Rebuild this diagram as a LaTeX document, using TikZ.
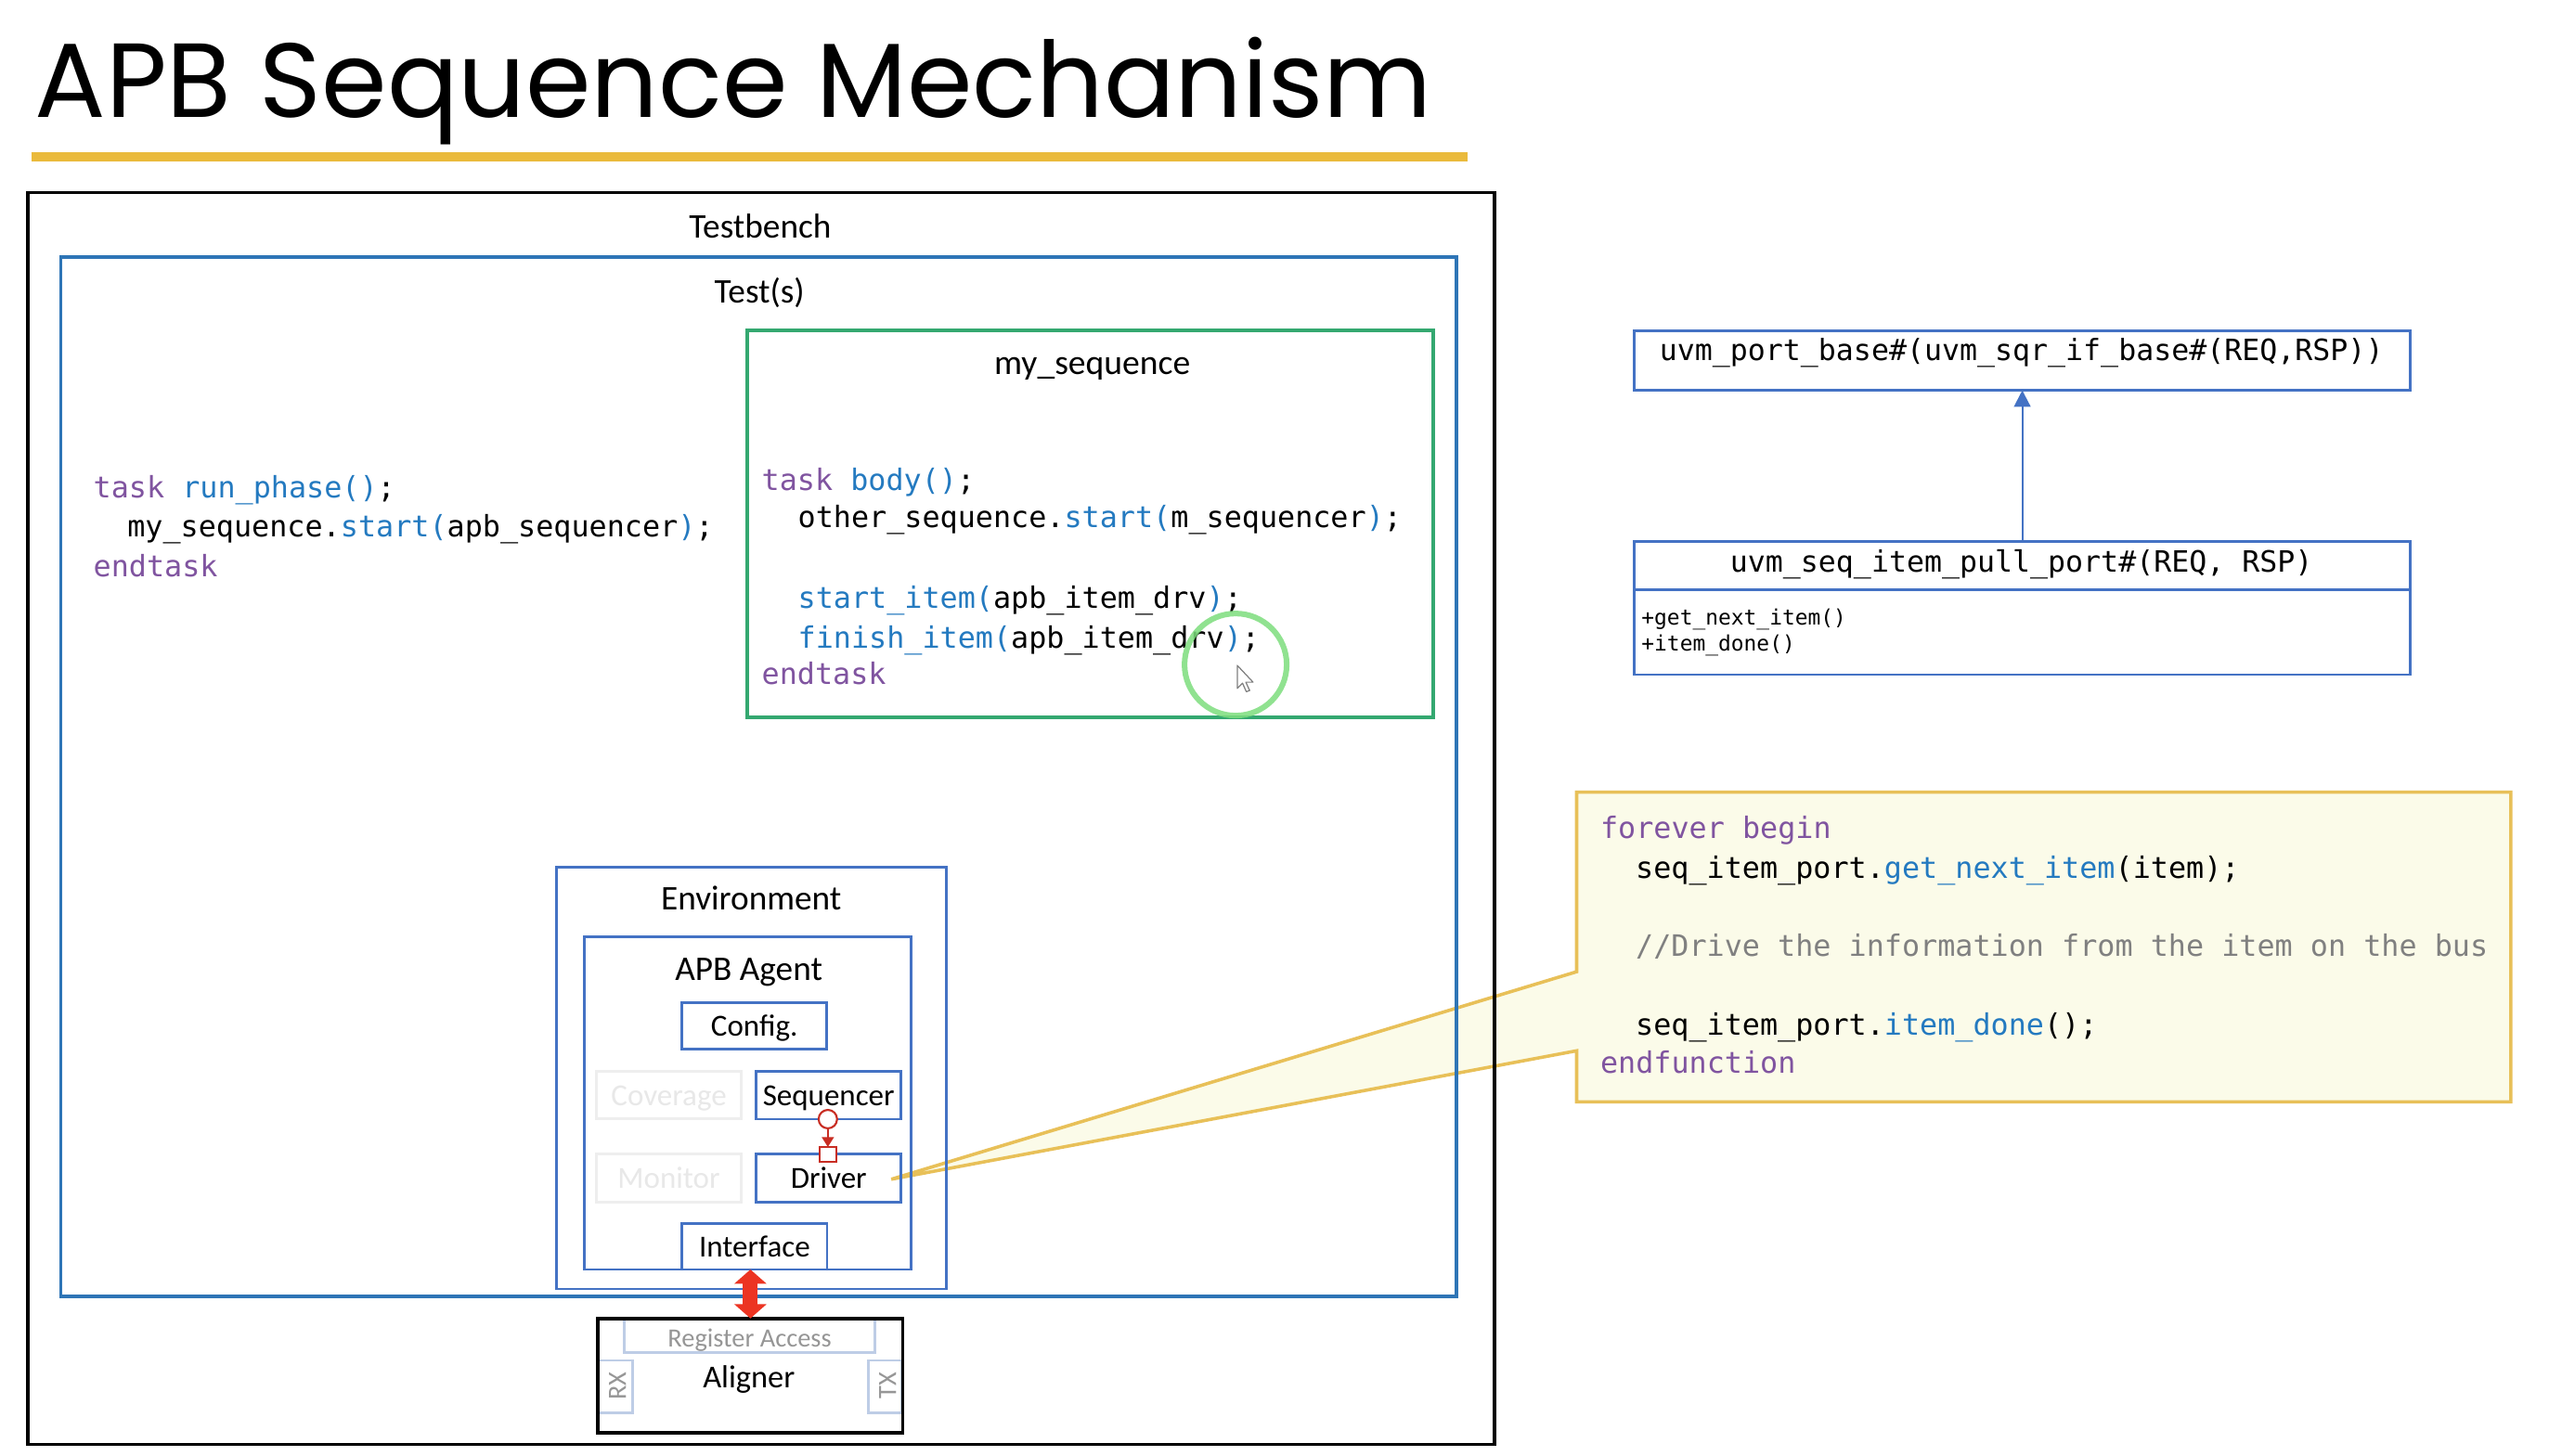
\documentclass[tikz,border=0pt]{standalone}
\usepackage{fontspec}
\setmainfont{Carlito}
\newfontfamily\codefont{DejaVu Sans Mono}
\newfontfamily\titlefont{Poppins}
\usetikzlibrary{fit,arrows.meta}
\definecolor{tbblue}{RGB}{46,117,182}
\definecolor{agblue}{RGB}{68,114,196}
\definecolor{seqgreen}{RGB}{52,168,112}
\definecolor{kwc}{RGB}{128,84,160}
\definecolor{fnc}{RGB}{36,122,192}
\definecolor{cmc}{RGB}{128,128,128}
\definecolor{rulec}{RGB}{234,186,60}
\definecolor{calfill}{RGB}{251,251,233}
\definecolor{caldraw}{RGB}{232,192,88}
\definecolor{fadedraw}{RGB}{238,238,238}
\definecolor{fadetext}{RGB}{232,232,232}
\definecolor{ltblue}{RGB}{190,205,230}
\definecolor{ltgray}{RGB}{150,150,150}
\definecolor{redc}{RGB}{236,52,34}
\definecolor{portred}{RGB}{200,45,35}
\definecolor{hlgreen}{RGB}{125,222,125}
\newcommand{\kw}[1]{\textcolor{kwc}{#1}}
\newcommand{\fn}[1]{\textcolor{fnc}{#1}}
\newcommand{\cm}[1]{\textcolor{cmc}{#1}}
\begin{document}
\begin{tikzpicture}[x=0.5pt,y=-0.5pt,
  box/.style={draw, inner sep=0pt, outer sep=0pt, line width=0.8pt},
  lbl/.style={font=\fontsize{10.5pt}{12pt}\selectfont, inner sep=0pt, text height=0.64em, text depth=0pt},
  sm/.style={font=\fontsize{9.3pt}{11pt}\selectfont, inner sep=0pt, text height=0.64em, text depth=0pt},
  tiny/.style={font=\fontsize{8pt}{9pt}\selectfont, inner sep=0pt, text height=0.64em, text depth=0pt, text=ltgray},
  code/.style={font=\codefont\fontsize{8.95pt}{10pt}\selectfont, anchor=mid west, inner sep=0pt},
  umlcode/.style={font=\codefont\fontsize{8.9pt}{10pt}\selectfont, anchor=mid, inner sep=0pt},
  umlsmall/.style={font=\codefont\fontsize{6.45pt}{8pt}\selectfont, anchor=mid west, inner sep=0pt},
  port/.style={draw=portred, fill=white, line width=0.6pt, inner sep=0pt, outer sep=0pt}
]
\useasboundingbox (0,0) rectangle (1563,883.5);
\fill[white] (0,0) rectangle (1563,883.5);

% title
\node[anchor=base west, inner sep=0pt, font=\titlefont\fontsize{32pt}{36pt}\selectfont] (title) at (20.8,71) {APB Sequence Mechanism};
\draw[rulec, line width=2.8pt] (19,95.2) -- (890.7,95.2);

% callout (drawn first, lines show through)
\coordinate (tip) at (541,716);
\draw[fill=calfill, draw=caldraw, line width=1pt, line join=miter]
  (957,481) -- (1524,481) -- (1524,669) -- (957,669) -- (957,638) -- (tip) -- (957,590) -- cycle;
\node[code] (c1) at (971,504.2) {\kw{forever begin}};
\node[code] (c2) at (992.5,528.6) {seq\_item\_port.\fn{get\_next\_item}(item);};
\node[code] (c3) at (992.5,575.6) {\cm{//Drive the information from the item on the bus}};
\node[code] (c4) at (992.5,623.5) {seq\_item\_port.\fn{item\_done}();};
\node[code] (c5) at (971,646.8) {\kw{endfunction}};

% testbench
\node[box, line width=1pt, draw=black, fit={(16.8,117) (907,877)}] (tb) {};
\node[lbl] (tblbl) at (461.4,138) {Testbench};
\node[box, line width=1pt, draw=tbblue, fit={(36.8,156) (884,787)}] (tests) {};
\node[lbl] (testslbl) at (461,177.5) {Test(s)};

% left code
\node[code] (l1) at (56.3,297.6) {\kw{task} \fn{run\_phase()};};
\node[code] (l2) at (77,321) {my\_sequence.\fn{start(}apb\_sequencer\fn{)};};
\node[code] (l3) at (56.3,345.5) {\kw{endtask}};

% my_sequence
\node[box, line width=1pt, draw=seqgreen, fit={(453.6,200.6) (870,435.5)}] (myseq) {};
\node[font=\fontsize{10.6pt}{12pt}\selectfont, anchor=mid, inner sep=0pt] (myseqlbl) at (663,222.5) {my\_sequence};
\node[code] (s1) at (462,293) {\kw{task} \fn{body()};};
\node[code] (s2) at (484,315.5) {other\_sequence.\fn{start(}m\_sequencer\fn{)};};
\node[code] (s3) at (484,364.5) {\fn{start\_item(}apb\_item\_drv\fn{)};};
\node[code] (s4) at (484,388.8) {\fn{finish\_item(}apb\_item\_drv\fn{)};};
\node[code] (s5) at (462,411) {\kw{endtask}};

% highlight circle and cursor
\node[circle, draw=hlgreen, line width=1.7pt, opacity=0.85, minimum size=31pt, inner sep=0pt] (hl) at (750,403.5) {};
\draw[fill=white, draw=gray, line width=0.35pt, line join=round]
  (751,404) -- ++(0,14) -- ++(3.2,-3.2) -- ++(2.3,5.2) -- ++(2,-0.8) -- ++(-2.3,-5) -- ++(4.4,0) -- cycle;

% environment
\node[box, draw=agblue, fit={(338,526.5) (574.6,782.6)}] (env) {};
\node[lbl] (envlbl) at (456,546) {Environment};
\node[box, draw=agblue, fit={(354.5,569) (553,770.8)}] (agent) {};
\node[lbl] (agentlbl) at (454.5,589) {APB Agent};
\node[box, draw=agblue, fit={(414,608.6) (501.8,637)}] (config) {};
\node[sm] (configlbl) at (config.center) {Config.};
\node[box, draw=fadedraw, fit={(362,650.5) (450,679)}] (cov) {};
\node[sm, text=fadetext] (covlbl) at (cov.center) {Coverage};
\node[box, draw=agblue, fit={(459,650.5) (547,679.5)}] (seqr) {};
\node[sm] (seqrlbl) at (seqr.center) {Sequencer};
\node[box, draw=fadedraw, fit={(362,700.6) (450,729.7)}] (mon) {};
\node[sm, text=fadetext] (monlbl) at (mon.center) {Monitor};
\node[box, draw=agblue, fit={(459,700.6) (547,729.7)}] (drv) {};
\node[sm] (drvlbl) at (drv.center) {Driver};
\node[box, draw=agblue, fit={(414,742.7) (502,770.8)}] (iface) {};
\node[sm] (ifacelbl) at (iface.center) {Interface};

% seq_item port connection
\node[port, circle, minimum size=5.6pt] (sport) at (502.5,679.5) {};
\node[port, rectangle, minimum width=5pt, minimum height=4.6pt] (dport) at (502.5,701) {};
\draw[portred, line width=0.6pt, -{Triangle[width=3.6pt,length=3pt]}] (sport) -- (dport);

% aligner
\node[box, draw=ltblue, fit={(379,801) (531,821)}] (reg) {};
\node[tiny] (reglbl) at (455,811.3) {Register Access};
\node[box, draw=ltblue, fit={(363,826) (384,858)}] (rx) {};
\node[tiny, rotate=90] (rxlbl) at (373.5,841.5) {RX};
\node[box, draw=ltblue, fit={(527,826) (547.5,858)}] (tx) {};
\node[tiny, rotate=90] (txlbl) at (537.6,841.5) {TX};
\node[box, line width=1pt, draw=black, fit={(363,800.5) (548,870)}] (aligner) {};
\node[font=\fontsize{9.7pt}{11pt}\selectfont, inner sep=0pt, text height=0.64em, text depth=0pt] (alignlbl) at (454.6,836) {Aligner};
\draw[redc, line width=4.5pt, {Triangle[width=9.5pt,length=4.3pt]}-{Triangle[width=9.5pt,length=4.3pt]}] (aligner.north |- iface.south) -- (aligner.north);

% UML
\node[box, draw=agblue, fit={(992,201) (1463,237)}] (base) {};
\node[umlcode] (basetxt) at (1227,214) {uvm\_port\_base\#(uvm\_sqr\_if\_base\#(REQ,RSP))};
\node[box, draw=agblue, fit={(992,329) (1463,409.6)}] (pull) {};
\draw[agblue, line width=0.8pt] (992,358) -- (1463,358);
\node[umlcode] (pulltxt) at (1227,342.5) {uvm\_seq\_item\_pull\_port\#(REQ, RSP)};
\node[umlsmall] (m1) at (996,374.7) {+get\_next\_item()};
\node[umlsmall] (m2) at (996,390.6) {+item\_done()};
\draw[agblue, line width=0.6pt, -{Triangle[width=5pt,length=5pt]}] (pull.north) -- (base.south);
\end{tikzpicture}
\end{document}
